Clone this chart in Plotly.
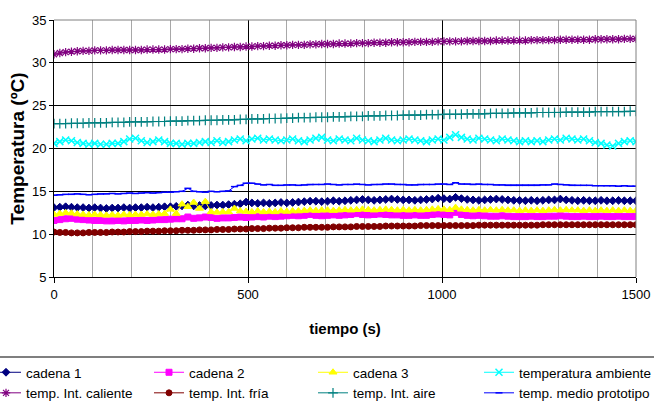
import plotly.graph_objects as go

# time axis (s)
tiempo = [15 * i for i in range(101)]

cadena_1 = [13.1, 13.15, 13.2, 13.15, 13.1, 13.1, 13.05, 13.1, 13.05, 13.0, 13.05,
            13.05, 13.1, 13.05, 13.1, 13.1, 13.15, 13.1, 13.15, 13.2, 13.2,
            13.25, 13.3, 13.4, 13.3, 13.35, 13.3, 13.35, 13.4, 13.4, 13.45, 13.5, 13.55, 13.75,
            13.65, 13.6, 13.65, 13.6, 13.65, 13.7, 13.65, 13.7, 13.75, 13.8, 13.85, 13.85, 13.8,
            13.85, 13.9, 13.85, 13.9, 13.95, 14.0, 14.05, 14.0, 13.95, 14.0, 14.05, 14.1, 14.05, 14.0,
            14.0, 13.95, 14.0, 14.05, 14.1, 14.2, 14.15, 14.1, 14.3, 14.15,
            14.05, 14.0, 13.95, 14.0, 14.05, 14.1, 14.05, 14.0, 13.95, 13.95,
            13.9, 13.95, 13.9, 13.95, 14.0, 14.0, 14.1, 14.0, 13.95, 13.9,
            13.95, 13.9, 13.9, 13.95, 13.9, 13.9, 13.95, 13.9, 13.9, 13.9]

cadena_2 = [11.6, 11.7, 11.8, 11.85, 11.75, 11.7, 11.65, 11.6, 11.6, 11.55, 11.55,
            11.6, 11.55, 11.6, 11.6, 11.65, 11.6, 11.65, 11.7, 11.7, 11.75,
            11.8, 11.8, 12.0, 11.85, 11.9, 12.0, 11.95, 11.85, 11.9, 11.9, 11.95, 12.0, 11.95,
            12.0, 12.05, 12.0, 12.1, 12.05, 12.1, 12.15, 12.2, 12.15, 12.2, 12.3, 12.2, 12.15,
            12.2, 12.25, 12.2, 12.25, 12.3, 12.4, 12.3, 12.25, 12.3, 12.35, 12.3, 12.25, 12.25, 12.2,
            12.2, 12.25, 12.2, 12.2, 12.3, 12.35, 12.3, 12.25, 12.55, 12.3,
            12.2, 12.15, 12.2, 12.15, 12.1, 12.1, 12.15, 12.1, 12.05, 12.05,
            12.05, 12.1, 12.05, 12.05, 12.1, 12.1, 12.15, 12.1, 12.05, 12.05,
            12.1, 12.05, 12.05, 12.1, 12.05, 12.05, 12.1, 12.05, 12.05, 12.05]

cadena_3 = [12.3, 12.4, 12.5, 12.45, 12.35, 12.3, 12.25, 12.3, 12.25, 12.2, 12.25,
            12.2, 12.3, 12.25, 12.3, 12.3, 12.35, 12.3, 12.35, 12.4, 12.9,
            12.4, 13.5, 13.2, 13.7, 13.0, 13.8, 12.6, 12.55, 12.6, 12.6, 13.0, 12.7, 12.65,
            12.6, 12.7, 12.6, 12.65, 12.6, 12.7, 12.65, 12.7, 12.7, 12.75, 12.8, 12.75, 12.8,
            12.8, 12.75, 12.8, 12.85, 12.8, 12.85, 12.9, 12.85, 12.8, 12.85, 12.9, 12.85, 12.8, 12.85,
            12.8, 12.85, 12.8, 12.85, 12.9, 12.95, 12.9, 12.85, 13.1, 12.9,
            12.85, 12.8, 12.85, 12.8, 12.85, 12.8, 12.85, 12.8, 12.8, 12.75,
            12.8, 12.75, 12.8, 12.75, 12.8, 12.85, 12.8, 12.85, 12.8, 12.8,
            12.75, 12.8, 12.75, 12.8, 12.75, 12.8, 12.75, 12.8, 12.75, 12.75]

temperatura_ambiente = [20.6, 20.8, 21.0, 20.9, 20.7, 20.6, 20.5, 20.6, 20.5, 20.5, 20.6,
                        20.6, 20.8, 21.1, 21.2, 20.9, 20.7, 20.8, 21.0, 20.8, 20.6,
                        20.6, 20.5, 20.6, 20.6, 20.7, 20.8, 20.7, 20.9, 20.7, 20.8, 21.0, 21.1, 20.9,
                        21.1, 21.2, 21.0, 21.1, 21.0, 20.9, 21.0, 21.1, 20.9, 20.8, 21.0, 21.2, 21.3,
                        21.0, 20.9, 21.1, 21.0, 20.9, 21.2, 21.0, 20.9, 20.8, 21.0, 21.2, 21.0, 20.9, 21.0,
                        21.1, 21.0, 20.9, 20.8, 21.0, 21.1, 21.0, 21.3, 21.6, 21.3,
                        21.1, 21.0, 21.2, 21.1, 21.0, 20.9, 21.1, 21.0, 20.9, 20.8,
                        20.9, 20.8, 20.9, 20.8, 21.0, 21.1, 21.0, 21.2, 21.1, 21.0,
                        21.1, 20.9, 20.7, 20.6, 20.4, 20.3, 20.6, 20.8, 20.9, 20.8]

temp_int_caliente = [31.0, 31.15, 31.25, 31.3, 31.35, 31.4, 31.4,
                     31.45, 31.45, 31.45, 31.5, 31.5, 31.5, 31.5, 31.5, 31.5, 31.55, 31.55, 31.55, 31.55, 31.6,
                     31.6, 31.6, 31.65, 31.65, 31.7, 31.7, 31.75, 31.75, 31.8, 31.8, 31.85, 31.85, 31.9,
                     31.9, 31.95, 31.95, 32.0, 32.0, 32.05, 32.05, 32.1, 32.1, 32.1, 32.15, 32.15, 32.2,
                     32.2, 32.2, 32.25, 32.25, 32.25, 32.3, 32.3, 32.3, 32.35, 32.35, 32.35, 32.4, 32.4, 32.4,
                     32.4, 32.45, 32.45, 32.45, 32.45, 32.5,
                     32.5, 32.5, 32.5, 32.5, 32.55, 32.55, 32.55, 32.55, 32.55, 32.6, 32.6, 32.6, 32.6, 32.6,
                     32.6, 32.65, 32.65, 32.65, 32.65, 32.65, 32.7, 32.7, 32.7, 32.7, 32.7, 32.7, 32.75, 32.75,
                     32.75, 32.75, 32.75, 32.8, 32.8, 32.8]

temp_int_fria = [10.25, 10.2, 10.2, 10.15, 10.15, 10.15, 10.2, 10.2, 10.2, 10.2, 10.25,
                 10.25, 10.25, 10.3, 10.3, 10.3, 10.35, 10.35, 10.35, 10.4, 10.4,
                 10.4, 10.45, 10.45, 10.45, 10.5, 10.5, 10.5, 10.55, 10.55, 10.55, 10.6, 10.6, 10.6,
                 10.65, 10.65, 10.65, 10.7, 10.7, 10.7, 10.75, 10.75, 10.75, 10.8, 10.8, 10.8, 10.8,
                 10.8, 10.85, 10.85, 10.85, 10.85, 10.9, 10.9, 10.9, 10.9, 10.9, 10.95, 10.95, 10.95, 10.95,
                 10.95, 10.95, 11.0, 11.0, 11.0, 11.0, 11.0, 11.0, 11.0, 11.0,
                 11.0, 11.0, 11.05, 11.05, 11.05, 11.05, 11.05, 11.05, 11.05, 11.05,
                 11.05, 11.05, 11.05, 11.1, 11.1, 11.1, 11.1, 11.1, 11.1, 11.1,
                 11.1, 11.1, 11.1, 11.1, 11.1, 11.1, 11.1, 11.1, 11.1, 11.1]

temp_int_aire = [22.9, 22.9, 22.9, 22.95, 22.95, 22.95, 23.0, 23.0, 23.0, 23.0, 23.05,
                 23.05, 23.05, 23.1, 23.1, 23.1, 23.1, 23.15, 23.15, 23.15, 23.2,
                 23.2, 23.2, 23.25, 23.25, 23.25, 23.3, 23.3, 23.3, 23.35, 23.35, 23.35, 23.4, 23.4,
                 23.45, 23.45, 23.45, 23.5, 23.5, 23.5, 23.55,
                 23.55, 23.6, 23.6, 23.6, 23.65, 23.65, 23.65, 23.7, 23.7, 23.7, 23.75, 23.75, 23.75,
                 23.8, 23.8, 23.8, 23.85, 23.85, 23.85, 23.9,
                 23.9, 23.9, 23.9, 23.95, 23.95, 23.95, 24.0, 24.0, 24.0, 24.0, 24.05, 24.05, 24.05,
                 24.05, 24.1, 24.1, 24.1, 24.1, 24.15, 24.15,
                 24.15, 24.15, 24.2, 24.2, 24.2, 24.2, 24.2, 24.25, 24.25, 24.25, 24.25, 24.25, 24.3,
                 24.3, 24.3, 24.3, 24.3, 24.3, 24.35, 24.35]

temp_medio_prototipo = [14.55, 14.6, 14.65, 14.65, 14.7, 14.65, 14.6, 14.65, 14.7, 14.7, 14.75,
                        14.7, 14.75, 14.8, 14.75, 14.8, 14.85, 14.8, 14.85, 14.9, 14.9,
                        14.95, 15.0, 15.35, 15.0, 14.95, 14.9, 15.0, 14.95, 15.0, 15.05, 15.55, 15.7, 15.95,
                        15.95, 15.85, 15.75, 15.8, 15.7, 15.7, 15.75, 15.75, 15.7, 15.75, 15.8, 15.8, 15.8,
                        15.85, 15.8, 15.75, 15.8, 15.8, 15.85, 15.8, 15.75, 15.8, 15.8, 15.85, 15.85, 15.8, 15.8,
                        15.75, 15.75, 15.8, 15.8, 15.8, 15.85, 15.85, 15.8, 16.0, 15.85,
                        15.85, 15.8, 15.85, 15.8, 15.8, 15.75, 15.75, 15.7, 15.7, 15.7,
                        15.7, 15.7, 15.7, 15.75, 15.75, 15.85, 15.8, 15.75, 15.7, 15.7,
                        15.7, 15.7, 15.65, 15.65, 15.65, 15.65, 15.6, 15.65, 15.6, 15.6]

x_ticks = [0, 500, 1000, 1500]
y_ticks = [5, 10, 15, 20, 25, 30, 35]

# name, values, colour, marker symbol, marker size, marker line width, legend column
series = [
    ("cadena 1", cadena_1, "#000080", "diamond", 6, 1, "legend"),
    ("cadena 2", cadena_2, "#FF00FF", "square", 6, 1, "legend2"),
    ("cadena 3", cadena_3, "#FFFF00", "triangle-up", 7, 1, "legend3"),
    ("temperatura ambiente", temperatura_ambiente, "#00FFFF", "x-thin-open", 7, 1.5, "legend4"),
    ("temp. Int. caliente", temp_int_caliente, "#800080", "asterisk-open", 7, 1.2, "legend"),
    ("temp. Int. fría", temp_int_fria, "#800000", "circle", 6, 1, "legend2"),
    ("temp. Int. aire", temp_int_aire, "#008080", "cross-thin-open", 7, 1.2, "legend3"),
    ("temp. medio prototipo", temp_medio_prototipo, "#0000FF", "line-ew-open", 5, 1.5, "legend4"),
]

fig = go.Figure()
for name, vals, color, sym, size, lw, leg in series:
    fig.add_trace(go.Scatter(
        x=tiempo, y=vals, name=name, mode="lines+markers", legend=leg,
        line=dict(color=color, width=1),
        marker=dict(symbol=sym, size=size, color=color,
                    line=dict(color=color, width=lw)),
    ))

FONT = "Liberation Sans, Arial, sans-serif"
PW, PH = 582, 257  # plot area size in px
L = 54  # plot left edge in px


def legend_col(left_px):
    return dict(
        orientation="v", x=(left_px - L) / PW, xanchor="left", y=-80 / PH, yanchor="top",
        font=dict(family=FONT, size=13.5, color="black"),
        itemwidth=30, bgcolor="rgba(0,0,0,0)", tracegroupgap=0,
    )


fig.update_layout(
    width=654, height=405,
    margin=dict(l=54, r=18, t=20, b=128, autoexpand=False),
    paper_bgcolor="white", plot_bgcolor="white",
    font=dict(family=FONT, color="black", size=13),
    showlegend=True,
    legend=legend_col(-14),
    legend2=legend_col(149),
    legend3=legend_col(313),
    legend4=legend_col(479),
    xaxis=dict(
        range=[0, 1500], tickvals=x_ticks, showgrid=True, gridcolor="#000000", gridwidth=1,
        minor=dict(dtick=100, showgrid=True, gridcolor="#A8A8A8", gridwidth=1, ticks=""),
        showline=True, linecolor="black", linewidth=1, ticks="outside", ticklen=5,
        tickcolor="black", zeroline=False, automargin=False,
        title=dict(text="<b>tiempo (s)</b>", font=dict(size=15, family=FONT), standoff=22),
        tickfont=dict(size=13),
    ),
    yaxis=dict(
        range=[5, 35], tickvals=y_ticks, showgrid=True, gridcolor="#000000", gridwidth=1,
        showline=True, linecolor="black", linewidth=1, ticks="outside", ticklen=4,
        tickcolor="black", zeroline=False, automargin=False,
        title=dict(text="<b>Temperatura (ºC)</b>", font=dict(size=19, family=FONT), standoff=2),
        tickfont=dict(size=13),
    ),
    shapes=[
        dict(type="line", xref="paper", yref="paper", x0=0, x1=1, y0=1, y1=1,
             line=dict(color="#808080", width=1)),
        dict(type="line", xref="paper", yref="paper", x0=1, x1=1, y0=0, y1=1,
             line=dict(color="#808080", width=1)),
        dict(type="line", xref="paper", yref="paper", x0=-54 / PW, x1=600 / PW,
             y0=-80 / PH, y1=-80 / PH, line=dict(color="#555555", width=1.5)),
    ],
)

fig.write_html("out.html", config={"displayModeBar": False},
               post_script="document.body.style.margin='0px';")
